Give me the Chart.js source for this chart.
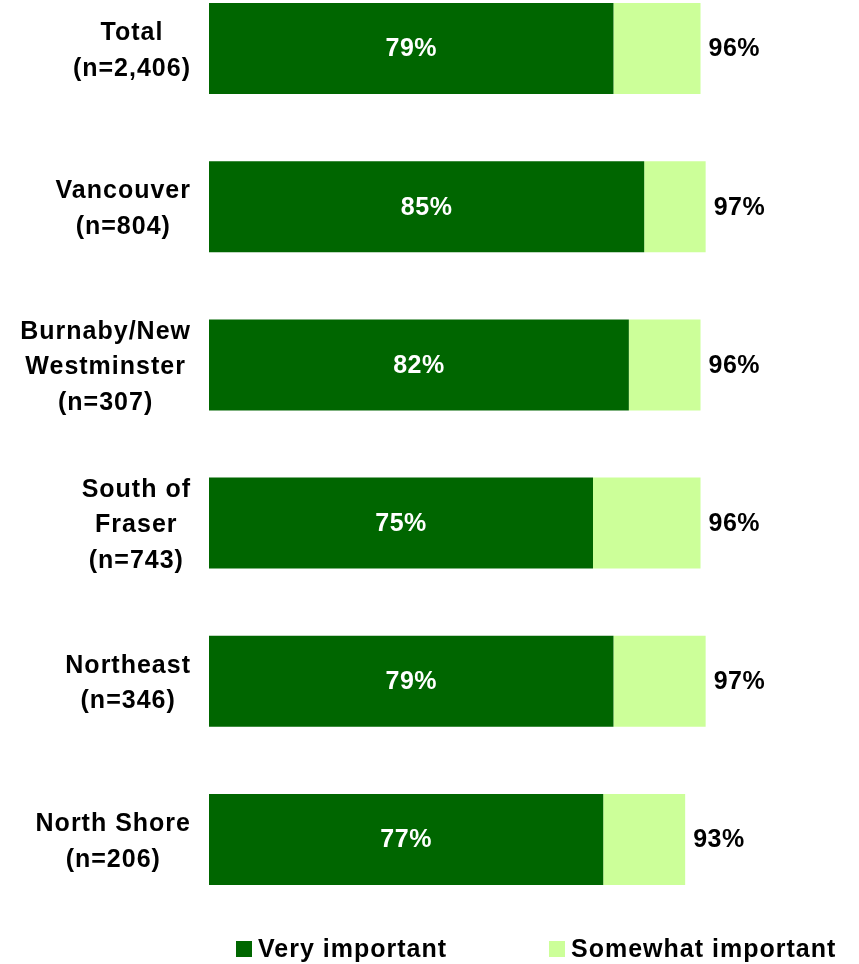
<!DOCTYPE html>
<html>
<head>
<meta charset="utf-8">
<title>Importance by region</title>
<script src="https://cdn.jsdelivr.net/npm/chart.js@4/dist/chart.umd.min.js"></script>
<style>
  html, body { margin: 0; padding: 0; background: #ffffff; }
  #wrap { width: 859px; height: 964px; position: relative; }
</style>
</head>
<body>
<div id="wrap"><canvas id="chart" width="859" height="964"></canvas></div>
<script>
// Regions surveyed (multi-line labels)
const regions = [
  ["Total", "(n=2,406)"],
  ["Vancouver", "(n=804)"],
  ["Burnaby/New", "Westminster", "(n=307)"],
  ["South of", "Fraser", "(n=743)"],
  ["Northeast", "(n=346)"],
  ["North Shore", "(n=206)"]
];

// Share saying "very important" (%)
const veryImportant = [79, 85, 82, 75, 79, 77];

// Combined very + somewhat important (%), shown at the end of each bar
const totalImportant = [96, 97, 96, 96, 97, 93];

// Somewhat important is the remainder of the combined share
const somewhatImportant = totalImportant.map((t, i) => t - veryImportant[i]);

const seriesNames = ["Very important", "Somewhat important"];

const DARK = "#006600";
const LIGHT = "#CCFF99";
const FONT = '"Liberation Sans", Arial, Helvetica, sans-serif';

// Draws the category labels, in-bar values, totals and the legend
const labelPlugin = {
  id: "labelPlugin",
  afterDatasetsDraw(chart) {
    const ctx = chart.ctx;
    const yScale = chart.scales.y;
    const veryMeta = chart.getDatasetMeta(0);
    const someMeta = chart.getDatasetMeta(1);
    ctx.save();
    ctx.textBaseline = "middle";
    ctx.font = "bold 25px " + FONT;
    const spaced = "letterSpacing" in ctx;

    // Category labels: each block centred on itself, right edge near the bars
    if (spaced) ctx.letterSpacing = "1px";
    const lineH = 35.5;
    regions.forEach((lines, i) => {
      const yc = yScale.getPixelForValue(i) + 2.5;
      const widest = Math.max(...lines.map(l => ctx.measureText(l).width));
      const xc = 191 - widest / 2;
      ctx.fillStyle = "#000000";
      ctx.textAlign = "center";
      lines.forEach((l, k) => {
        const y = yc + (k - (lines.length - 1) / 2) * lineH;
        ctx.fillText(l, xc, y);
      });
    });

    // Values inside the dark segment
    if (spaced) ctx.letterSpacing = "0.5px";
    veryMeta.data.forEach((bar, i) => {
      ctx.fillStyle = "#ffffff";
      ctx.textAlign = "center";
      ctx.fillText(veryImportant[i] + "%", (bar.x + bar.base) / 2, bar.y + 1);
    });

    // Combined totals after each bar
    someMeta.data.forEach((bar, i) => {
      ctx.fillStyle = "#000000";
      ctx.textAlign = "left";
      ctx.fillText(totalImportant[i] + "%", bar.x + 8, bar.y + 1);
    });

    // Legend
    if (spaced) ctx.letterSpacing = "1px";
    const legendY = 949;
    const items = [
      { x: 236, color: DARK, text: seriesNames[0] },
      { x: 549, color: LIGHT, text: seriesNames[1] }
    ];
    items.forEach(it => {
      ctx.fillStyle = it.color;
      ctx.fillRect(it.x, legendY - 8, 16, 16);
      ctx.fillStyle = "#000000";
      ctx.textAlign = "left";
      ctx.fillText(it.text, it.x + 22, legendY + 1);
    });
    ctx.restore();
  }
};

new Chart(document.getElementById("chart"), {
  type: "bar",
  data: {
    labels: regions,
    datasets: [
      {
        label: seriesNames[0],
        data: veryImportant,
        backgroundColor: DARK,
        borderWidth: 0,
        clip: false
      },
      {
        label: seriesNames[1],
        data: somewhatImportant,
        backgroundColor: LIGHT,
        borderWidth: 0,
        clip: false
      }
    ]
  },
  options: {
    indexAxis: "y",
    responsive: false,
    animation: false,
    devicePixelRatio: 1,
    barPercentage: 1,
    categoryPercentage: 0.575,
    layout: {
      padding: { left: 209, right: 138, top: 48.5, bottom: 124.5 }
    },
    scales: {
      x: {
        stacked: true,
        min: 0,
        max: 100,
        display: false
      },
      y: {
        stacked: true,
        offset: false,
        display: false
      }
    },
    plugins: {
      legend: { display: false },
      tooltip: { enabled: false },
      title: { display: false }
    }
  },
  plugins: [labelPlugin]
});
</script>
</body>
</html>
